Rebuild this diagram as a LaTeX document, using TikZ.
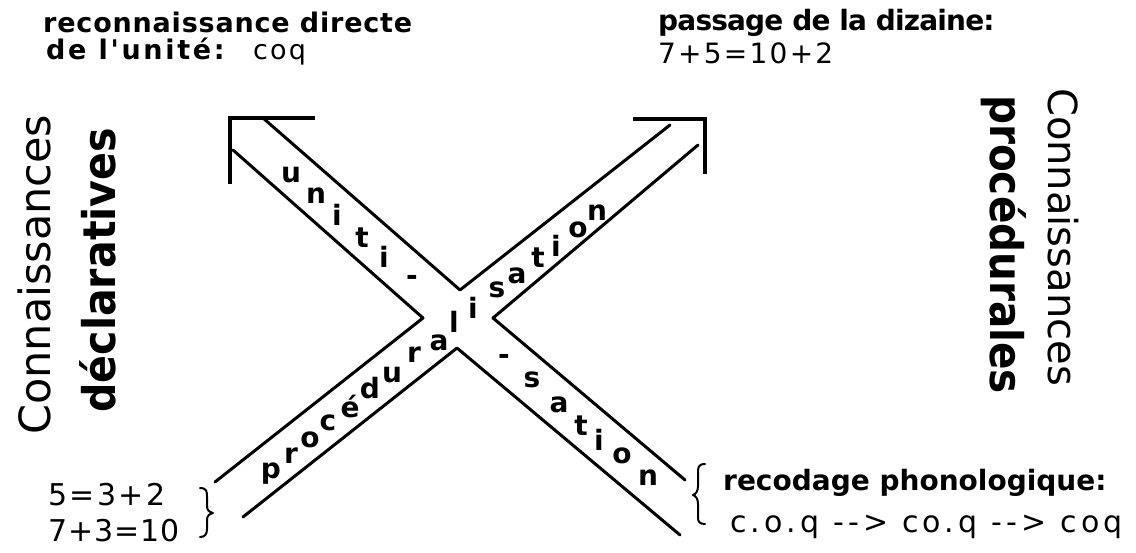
\documentclass[tikz,border=0pt]{standalone}
\usepackage{fontspec}
\setmainfont{DejaVu Sans}
\newfontfamily\labfont{DejaVu Sans}
\newfontfamily\numfont{DejaVu Sans}[LetterSpace=8]
\newfontfamily\bandfont{DejaVu Sans}

\tikzset{
  edge/.style={line width=3pt, line join=round, line cap=round},
  corner/.style={line width=3.2pt, line join=miter},
  curly/.style={line width=2pt, line cap=round, line join=round},
  smallbold/.style={font=\labfont\bfseries\fontsize{#1}{32}\selectfont, inner sep=0pt, anchor=base west},
  smallbold/.default=28,
  plainnum/.style={font=\numfont\fontsize{#1}{#1}\selectfont, inner sep=0pt, anchor=base west},
  plainnum/.default=28,
  letter/.style={font=\bandfont\bfseries\fontsize{28}{32}\selectfont, inner sep=0pt, anchor=base},
  bigplain/.style={font=\fontsize{#1}{#1}\selectfont, inner sep=0pt, anchor=base west},
  bigbold/.style={font=\bfseries\fontsize{45}{45}\selectfont, inner sep=0pt, anchor=base west},
}

\begin{document}
\begin{tikzpicture}[x=1pt,y=-1pt]
\useasboundingbox (0,0) rectangle (1136,552);
\fill[white] (0,0) rectangle (1136,552);

% the two crossing bands, drawn as four bent edges
\draw[edge] (263,118) -- (460,290) -- (670,125);
\draw[edge] (233,150) -- (423,318) -- (215,482);
\draw[edge] (698,145) -- (493,318) -- (685,480);
\draw[edge] (243,517) -- (457,348) -- (680,535);

% arrow corners at the two upper ends
\draw[corner] (230,184) -- (230,118) -- (315,118);
\draw[corner] (633,119) -- (705,119) -- (705,174);

% descending band: uniti- / -sation
\foreach \ch/\x/\y [count=\k] in {u/291/182, n/316/203, i/337/225, t/362/247, i/384/267,
    -/412/285, -/504/364, s/532/387, a/559/412, t/581/435, i/599/450, o/622/463, n/648/485}
  \node[letter] (uni\k) at (\x,\y) {\ch};

% ascending band: proceduralisation
\foreach \ch/\x/\y [count=\k] in {p/271/478, r/291/463, o/310/447, c/328/430, é/350/417,
    d/370/398, u/392/382, r/414/362, a/439/350, l/454/332, i/473/318, s/497/297,
    a/517/283, t/538/267, i/556/256, o/578/237, n/597/220}
  \node[letter] (pro\k) at (\x,\y) {\ch};

% vertical titles
\node[bigplain=43, rotate=90] (cdecl) at (50,435) {Connaissances};
\node[bigbold, rotate=90] (decl) at (115,413) {\scalebox{0.915}[1]{déclaratives}};
\node[bigplain=40, rotate=-90] (cproc) at (1048,88) {Connaissances};
\node[bigbold, rotate=-90] (proc) at (990,95) {\scalebox{0.9}[1]{procédurales}};

% upper notes
\node[smallbold=27] (rec1) at (43,32) {\addfontfeatures{LetterSpace=3}reconnaissance directe};
\node[smallbold=27] (rec2) at (46,59) {\addfontfeatures{LetterSpace=10}de l'unité:};
\node[plainnum=27] (rec3) at (253,59) {coq};
\node[smallbold] (diz1) at (658,30) {\addfontfeatures{LetterSpace=-3}passage de la dizaine:};
\node[plainnum=28] (diz2) at (658,63) {7+5=10+2};

% lower left facts and brace
\node[plainnum=30] (fa) at (48,505) {5=3+2};
\node[plainnum=30] (fb) at (48,541) {\addfontfeatures{LetterSpace=3}7+3=10};
\draw[curly] (200,488) .. controls (207,488) and (207,492) .. (207,497) -- (207,506)
  .. controls (207,510) and (209,512) .. (213,513) .. controls (209,514) and (207,516) .. (207,520)
  -- (207,529) .. controls (207,534) and (205,537) .. (200,537);

% lower right note and brace
\draw[curly] (705,464) .. controls (698,464) and (698,468) .. (698,473) -- (698,486)
  .. controls (698,491) and (696,494) .. (693,495) .. controls (696,496) and (698,499) .. (698,504)
  -- (698,518) .. controls (698,522) and (700,524) .. (705,524);
\node[smallbold] (pho1) at (723,490) {recodage phonologique:};
\node[plainnum=30] (pho2) at (730,532) {\addfontfeatures{LetterSpace=14}c.o.q -{}-> co.q -{}-> coq};
\end{tikzpicture}
\end{document}
